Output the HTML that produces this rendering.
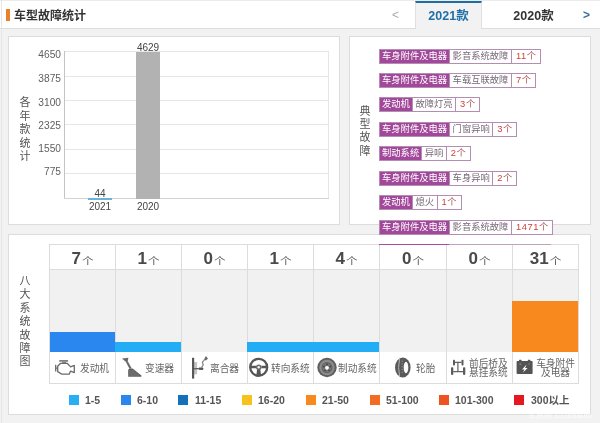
<!DOCTYPE html>
<html lang="zh-CN">
<head>
<meta charset="utf-8">
<title>车型故障统计</title>
<style>
*{margin:0;padding:0;box-sizing:border-box;}
html,body{width:600px;height:423px;overflow:hidden;}
body{position:relative;background:#f2f2f2;font-family:"Liberation Sans","Noto Sans CJK SC",sans-serif;color:#333;}
.a{position:absolute;}
#hd{left:0;top:0;width:600px;height:29px;background:#fff;border-bottom:1px solid #dcdcdc;border-top:1px solid #ececec;}
#lline{left:1px;top:0;width:1px;height:423px;background:#e6e6e6;}
#bar{left:6px;top:9px;width:4px;height:12px;background:#e9822c;}
#title{left:14px;top:8px;font-size:12px;font-weight:bold;line-height:16px;color:#333;white-space:nowrap;}
#prev{left:392px;top:7px;font-size:12px;line-height:16px;color:#aaa;}
#tab1{left:415px;top:1px;width:67px;height:28px;background:#f2f2f2;border-top:2px solid #1d6fa3;border-left:1px solid #e0e0e0;border-right:1px solid #e0e0e0;}
#tab1 span,#tab2 span{position:absolute;left:0;right:0;top:6px;text-align:center;font-size:12.5px;font-weight:bold;line-height:16px;}
#tab1 span{color:#1f6fa8;top:5px;}
#tab2{left:482px;top:0;width:103px;height:28px;}
#tab2 span{color:#333;top:8px;}
#next{left:583px;top:7px;font-size:12px;line-height:16px;color:#3f6f99;font-weight:bold;}
.pn{background:#fff;border:1px solid #dcdcdc;}
#p1{left:8px;top:36px;width:332px;height:189px;}
#p2{left:349px;top:36px;width:242px;height:189px;}
#p3{left:8px;top:234px;width:583px;height:181px;}
.vt{width:12px;font-size:11px;line-height:13.4px;color:#555;text-align:center;}
/* chart */
.gl{height:1px;background:#e6e6e6;left:64px;width:265px;}
.yl{right:539px;font-size:10.2px;line-height:12px;color:#606060;text-align:right;}
.xl{font-size:10px;line-height:12px;color:#444;width:40px;text-align:center;}
/* tags */
.tg{left:379px;height:15px;border:1px solid #b48eb2;background:#fff;display:flex;white-space:nowrap;font-size:9.3px;line-height:13px;font-family:"Liberation Sans","Noto Sans CJK SC",sans-serif;}
.tg b{font-weight:normal;background:#a2489b;color:#fff;padding:0 2px;}
.tg i{font-style:normal;color:#776a78;padding:0 2.5px;border-left:1px solid #b48eb2;}
.tg em{font-style:normal;color:#a4504c;padding:0 4px;border-left:1px solid #b48eb2;}
.tg u{text-decoration:none;color:#cc3f36;letter-spacing:0.6px;}
.gb{background:#f1f1f1;}
.num{text-align:center;white-space:nowrap;line-height:24px;height:24px;padding-top:2px;}
.num b{font-size:17px;font-weight:bold;color:#4a4a4a;}
.num i{font-style:normal;font-size:11.6px;color:#5a5a5a;margin-left:1px;display:inline-block;transform:scaleY(0.84);transform-origin:50% 80%;}
.lb{font-size:9.7px;line-height:12px;color:#666;white-space:nowrap;margin-top:0.7px;}
.lb2{font-size:9.7px;line-height:9.6px;margin-top:0.6px;color:#666;white-space:nowrap;text-align:center;}
.lg{font-size:10.5px;line-height:14px;font-weight:bold;color:#555;white-space:nowrap;}
</style>
</head>
<body>
<div id="hd" class="a"></div>
<div id="lline" class="a"></div>
<div id="bar" class="a"></div>
<div id="title" class="a">车型故障统计</div>
<div id="prev" class="a">&lt;</div>
<div id="tab1" class="a"><span>2021款</span></div>
<div id="tab2" class="a"><span>2020款</span></div>
<div id="next" class="a">&gt;</div>

<div id="p1" class="a pn"></div>
<div id="p2" class="a pn"></div>
<div id="p3" class="a pn"></div>

<!-- CHART -->
<div class="a vt" style="left:19px;top:96px;line-height:13.6px;">各年款统计</div>
<div class="a gl" style="top:51px;"></div>
<div class="a gl" style="top:76px;"></div>
<div class="a gl" style="top:100px;"></div>
<div class="a gl" style="top:124px;"></div>
<div class="a gl" style="top:149px;"></div>
<div class="a gl" style="top:173px;"></div>
<div class="a" style="left:328px;top:51px;width:1px;height:147px;background:#e6e6e6;"></div>
<div class="a" style="left:64px;top:51px;width:1px;height:148px;background:#c4c4c4;"></div>
<div class="a" style="left:64px;top:198px;width:265px;height:1px;background:#d4d4d4;"></div>
<div class="a yl" style="top:49px;">4650</div>
<div class="a yl" style="top:73px;">3875</div>
<div class="a yl" style="top:97px;">3100</div>
<div class="a yl" style="top:120px;">2325</div>
<div class="a yl" style="top:143px;">1550</div>
<div class="a yl" style="top:166px;">775</div>
<div class="a" style="left:88px;top:198px;width:24px;height:2px;background:#6cb2d6;"></div>
<div class="a" style="left:136px;top:52px;width:24px;height:147px;background:#b2b2b2;"></div>
<div class="a xl" style="left:80px;top:188px;">44</div>
<div class="a xl" style="left:128px;top:41.5px;">4629</div>
<div class="a xl" style="left:80px;top:201px;">2021</div>
<div class="a xl" style="left:128px;top:201px;">2020</div>

<!-- TAGS -->
<div class="a vt" style="left:359px;top:105px;line-height:13.2px;">典型故障</div>
<div class="a tg" style="top:49px;"><b>车身附件及电器</b><i>影音系统故障</i><em><u>11</u>个</em></div>
<div class="a tg" style="top:73px;"><b>车身附件及电器</b><i>车载互联故障</i><em><u>7</u>个</em></div>
<div class="a tg" style="top:97px;"><b>发动机</b><i>故障灯亮</i><em><u>3</u>个</em></div>
<div class="a tg" style="top:122px;"><b>车身附件及电器</b><i>门窗异响</i><em><u>3</u>个</em></div>
<div class="a tg" style="top:146px;"><b>制动系统</b><i>异响</i><em><u>2</u>个</em></div>
<div class="a tg" style="top:171px;"><b>车身附件及电器</b><i>车身异响</i><em><u>2</u>个</em></div>
<div class="a tg" style="top:195px;"><b>发动机</b><i>熄火</i><em><u>1</u>个</em></div>
<div class="a tg" style="top:220px;"><b>车身附件及电器</b><i>影音系统故障</i><em><u>1471</u>个</em></div>

<!-- TABLE -->
<div class="a vt" style="left:19px;top:275px;">八大系统故障图</div>
<div class="a" style="left:49px;top:244px;width:530px;height:140px;border:1px solid #dcdcdc;background:#fff;"></div>
<div class="a gb" style="left:50px;top:270px;width:528px;height:82px;"></div>
<div class="a" style="left:49px;top:269px;width:530px;height:1px;background:#dcdcdc;"></div>
<div class="a" style="left:115px;top:244px;width:1px;height:140px;background:#dcdcdc;"></div>
<div class="a" style="left:181px;top:244px;width:1px;height:140px;background:#dcdcdc;"></div>
<div class="a" style="left:247px;top:244px;width:1px;height:140px;background:#dcdcdc;"></div>
<div class="a" style="left:313px;top:244px;width:1px;height:140px;background:#dcdcdc;"></div>
<div class="a" style="left:379px;top:244px;width:1px;height:140px;background:#dcdcdc;"></div>
<div class="a" style="left:446px;top:244px;width:1px;height:140px;background:#dcdcdc;"></div>
<div class="a" style="left:512px;top:244px;width:1px;height:140px;background:#dcdcdc;"></div>
<div class="a" style="left:50px;top:332px;width:65px;height:20px;background:#2b87f0;"></div>
<div class="a" style="left:115px;top:342px;width:66px;height:10px;background:#22adf5;"></div>
<div class="a" style="left:247px;top:342px;width:66px;height:10px;background:#22adf5;"></div>
<div class="a" style="left:313px;top:342px;width:66px;height:10px;background:#22adf5;"></div>
<div class="a" style="left:512px;top:301px;width:66px;height:51px;background:#f7891f;"></div>
<div class="a num" style="left:50px;width:65px;top:245px;"><b>7</b><i>个</i></div>
<div class="a num" style="left:116px;width:65px;top:245px;"><b>1</b><i>个</i></div>
<div class="a num" style="left:182px;width:65px;top:245px;"><b>0</b><i>个</i></div>
<div class="a num" style="left:248px;width:65px;top:245px;"><b>1</b><i>个</i></div>
<div class="a num" style="left:314px;width:65px;top:245px;"><b>4</b><i>个</i></div>
<div class="a num" style="left:380px;width:66px;top:245px;"><b>0</b><i>个</i></div>
<div class="a num" style="left:447px;width:65px;top:245px;"><b>0</b><i>个</i></div>
<div class="a num" style="left:513px;width:65px;top:245px;"><b>31</b><i>个</i></div>
<div class="a lb" style="left:80px;top:362px;">发动机</div>
<div class="a lb" style="left:145px;top:362px;">变速器</div>
<div class="a lb" style="left:210px;top:362px;">离合器</div>
<div class="a lb" style="left:271px;top:362px;">转向系统</div>
<div class="a lb" style="left:338px;top:362px;">制动系统</div>
<div class="a lb" style="left:416px;top:362px;">轮胎</div>
<div class="a lb2" style="left:469px;top:358px;">前后桥及<br>悬挂系统</div>
<div class="a lb2" style="left:535px;top:358px;width:41px;">车身附件<br>及电器</div>
<div class="a" style="left:69px;top:395px;width:10px;height:10px;background:#2aaef2;"></div>
<div class="a lg" style="left:85px;top:393px;">1-5</div>
<div class="a" style="left:121px;top:395px;width:10px;height:10px;background:#2b87f0;"></div>
<div class="a lg" style="left:137px;top:393px;">6-10</div>
<div class="a" style="left:178px;top:395px;width:10px;height:10px;background:#1470b8;"></div>
<div class="a lg" style="left:195px;top:393px;">11-15</div>
<div class="a" style="left:242px;top:395px;width:10px;height:10px;background:#f8c21c;"></div>
<div class="a lg" style="left:258px;top:393px;">16-20</div>
<div class="a" style="left:306px;top:395px;width:10px;height:10px;background:#f7891f;"></div>
<div class="a lg" style="left:322px;top:393px;">21-50</div>
<div class="a" style="left:370px;top:395px;width:10px;height:10px;background:#f26d22;"></div>
<div class="a lg" style="left:386px;top:393px;">51-100</div>
<div class="a" style="left:439px;top:395px;width:10px;height:10px;background:#ef5420;"></div>
<div class="a lg" style="left:455px;top:393px;">101-300</div>
<div class="a" style="left:514px;top:395px;width:10px;height:10px;background:#e5171f;"></div>
<div class="a lg" style="left:531px;top:393px;">300以上</div>
<div class="a" style="left:379px;top:244px;width:70px;height:1px;background:#a5509e;"></div>
<div class="a" style="left:449px;top:244px;width:102px;height:1px;background:#c2a0c0;"></div>
<!-- ICONS -->
<svg class="a" style="left:54px;top:359px;" width="22" height="17" viewBox="0 0 22 17" fill="none" stroke="#6a6a6a" stroke-width="1.3" stroke-linejoin="round">
<path d="M5.3 1.9 H14.1" stroke-width="1.5"/>
<path d="M7.8 2.4 H12.6 L11.9 4.2 H8.5 Z" fill="#8a8a8a" stroke="none"/>
<path d="M3.7 7.2 L6.6 4.3 H13.1 L16.6 7.9 L20.3 6.4 V13.6 L16.6 12.1 L15.2 15.2 H7.9 L3.7 12.6 Z"/>
<path d="M1.7 5.8 V12.6 M1.7 9.2 H3.7"/>
</svg>
<svg class="a" style="left:121px;top:357px;" width="22" height="21" viewBox="0 0 22 21">
<path d="M1 1.4 L7.4 0.8 L6.4 6.2 Z" fill="#6a6a6a"/>
<path d="M6 5 L9.6 11.6" stroke="#6a6a6a" stroke-width="2.1" fill="none"/>
<path d="M7.2 19.8 V13 Q7.4 11.4 9 11.4 H11.6 L20.4 18.6 V19.8 Z" fill="#5e5e5e"/>
<path d="M8 14 H13.6 M8 16 H16 M8 18 H18.4" stroke="#8e8e8e" stroke-width="0.6"/>
</svg>
<svg class="a" style="left:190px;top:355px;" width="19" height="25" viewBox="0 0 19 25">
<rect x="4.1" y="7" width="3" height="12.3" fill="#c4c4c4"/>
<rect x="2" y="2.8" width="2.2" height="20.8" fill="#585858"/>
<path d="M4 13.7 H12.5" stroke="#5a5a5a" stroke-width="1.3"/>
<path d="M9 12.6 L12.8 12.4 Q14.2 13.7 12.8 14.9 L9 14.7 Z" fill="#555"/>
<path d="M11.5 12.6 L13.2 10 L12.4 7.2 L14.6 4.6" stroke="#8a8a8a" stroke-width="1.3" fill="none" stroke-linejoin="round"/>
<path d="M14 4.6 L15.8 1 L18 3.6 L16 5.6 Z" fill="#6a6a6a"/>
</svg>
<svg class="a" style="left:248px;top:357px;" width="21" height="21" viewBox="0 0 21 21">
<circle cx="10.7" cy="10.3" r="8.5" fill="none" stroke="#555" stroke-width="2.3"/>
<path d="M2.4 10 H8 M13.4 10 H19" stroke="#575757" stroke-width="2.6" fill="none"/>
<path d="M9.2 12 L8.2 18.8 H13.2 L12.2 12 Z" fill="#575757"/>
<circle cx="10.7" cy="10.2" r="2.8" fill="#6a6a6a"/>
<circle cx="10.7" cy="10.2" r="1.2" fill="#f4f4f4"/>
</svg>
<svg class="a" style="left:317px;top:357px;" width="21" height="21" viewBox="0 0 21 21">
<circle cx="10" cy="10.5" r="9.7" fill="#5f5f5f"/>
<circle cx="10" cy="10.5" r="6.6" fill="none" stroke="#8c8c8c" stroke-width="2.2"/>
<circle cx="10" cy="10.6" r="4.7" fill="#747474"/>
<circle cx="10.00" cy="7.30" r="0.85" fill="#3e3e3e"/><circle cx="13.14" cy="9.58" r="0.85" fill="#3e3e3e"/><circle cx="11.94" cy="13.27" r="0.85" fill="#3e3e3e"/><circle cx="8.06" cy="13.27" r="0.85" fill="#3e3e3e"/><circle cx="6.86" cy="9.58" r="0.85" fill="#3e3e3e"/>
<circle cx="10" cy="10.8" r="1.9" fill="#fff"/>
</svg>
<svg class="a" style="left:393px;top:357px;" width="19" height="21" viewBox="0 0 19 21">
<ellipse cx="9.8" cy="10.5" rx="7.8" ry="10" fill="#5a5a5a"/>
<path d="M6.6 1.2 Q4.6 10.5 6.6 19.8" stroke="#b4b4b4" stroke-width="1" fill="none"/>
<path d="M9.2 3.5 V17.5" stroke="#9a9a9a" stroke-width="1" stroke-dasharray="1.2 1.6"/>
<ellipse cx="13" cy="10.5" rx="2.3" ry="5.7" fill="#fff"/>
</svg>
<svg class="a" style="left:449px;top:358px;" width="18" height="18" viewBox="0 0 18 18">
<g fill="#5c5c5c">
<rect x="4" y="1.8" width="2" height="5.7" rx="0.8"/><rect x="12.5" y="1.8" width="2" height="5.7" rx="0.8"/>
<rect x="2" y="9.2" width="2.3" height="7.7" rx="0.8"/><rect x="14" y="9.2" width="2.3" height="7.7" rx="0.8"/>
</g>
<path d="M6 4.4 H12.5 M4.2 13.6 H14 M8.9 4.4 V13.6" stroke="#606060" stroke-width="1.2"/>
</svg>
<svg class="a" style="left:516px;top:359px;" width="18" height="16" viewBox="0 0 18 16">
<rect x="3" y="0.7" width="2.6" height="2" rx="0.6" fill="#555"/><rect x="11.8" y="0.7" width="2.6" height="2" rx="0.6" fill="#555"/>
<rect x="0.6" y="2" width="16" height="13" rx="0.8" fill="#545454"/>
<path d="M4.3 4 V6.2 M13.1 4 V6.2 M3.2 5.1 H5.4" stroke="#8a8a8a" stroke-width="0.7"/>
<path d="M10.6 5.6 L6 10.6 H8.5 L6.8 13.8 L11.6 9 H9.1 Z" fill="#fff"/>
</svg>
<div class="a" style="left:528px;top:411px;font-size:8px;line-height:10px;color:#fff;opacity:0.75;letter-spacing:0;white-space:nowrap;">车质网 12365auto</div>
</body>
</html>
